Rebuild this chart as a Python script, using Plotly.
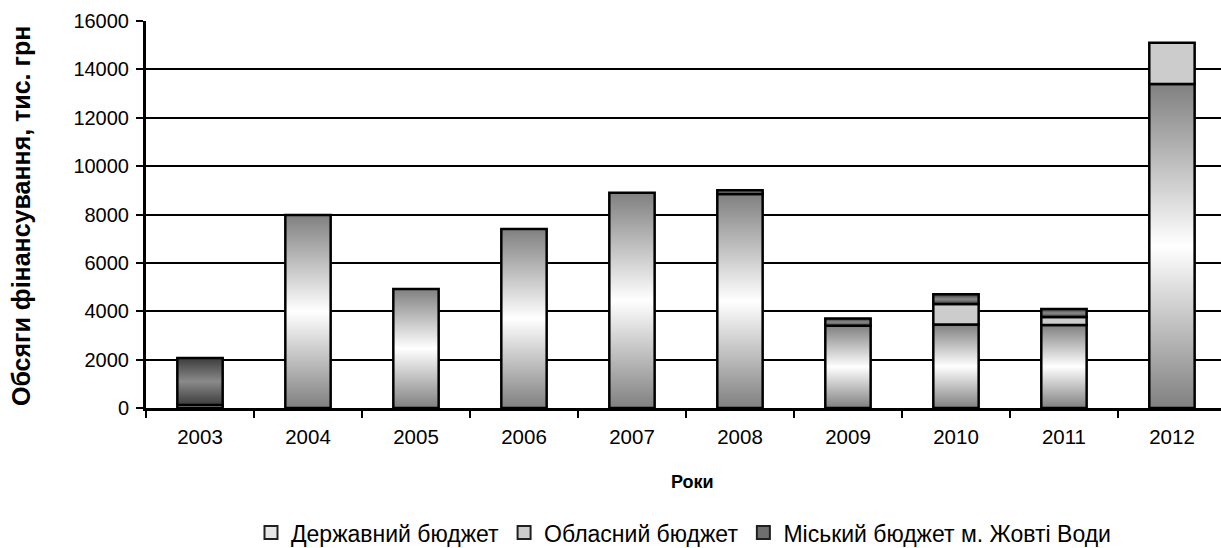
import plotly.graph_objects as go

years = ["2003", "2004", "2005", "2006", "2007", "2008", "2009", "2010", "2011", "2012"]
state_budget = [120, 7980, 4920, 7400, 8900, 8850, 3400, 3450, 3430, 13400]
oblast_budget = [0, 0, 0, 0, 0, 0, 0, 850, 330, 1700]
city_budget = [1950, 0, 0, 0, 0, 150, 300, 400, 330, 0]

series_names = ["Державний бюджет", "Обласний бюджет", "Міський бюджет м. Жовті Води"]

FONT = "Liberation Sans, Arial, sans-serif"
HALF_W = 0.21
scales = [
    [[0, "#808080"], [0.5, "#ffffff"], [1, "#808080"]],
    [[0, "#cccccc"], [1, "#cccccc"]],
    [[0, "#3c3c3c"], [0.5, "#8a8a8a"], [1, "#3c3c3c"]],
]
legend_colors = ["#e6e6e6", "#cccccc", "#6e6e6e"]

fig = go.Figure()
series = [state_budget, oblast_budget, city_budget]
base = [0] * len(years)
for s_idx, vals in enumerate(series):
    for i, v in enumerate(vals):
        if v <= 0:
            continue
        b = base[i]
        t = b + v
        fig.add_trace(go.Scatter(
            x=[i - HALF_W, i + HALF_W, i + HALF_W, i - HALF_W, i - HALF_W],
            y=[b, b, t, t, b],
            mode="lines", fill="toself",
            fillgradient=dict(type="vertical", colorscale=scales[s_idx], start=b, stop=t),
            line=dict(color="black", width=2.5),
            hoverinfo="skip", showlegend=False,
        ))
        base[i] = t

for s_idx, name in enumerate(series_names):
    fig.add_trace(go.Scatter(
        x=[None], y=[None], mode="markers", name=name,
        marker=dict(symbol="square", size=13, color=legend_colors[s_idx],
                    line=dict(color="#202020", width=2)),
    ))

fig.update_layout(
    width=1221, height=548,
    margin=dict(l=146, r=0, t=21, b=140),
    paper_bgcolor="white", plot_bgcolor="white",
    font=dict(family=FONT, color="black", size=20),
    showlegend=True,
    legend=dict(orientation="h", x=0.5, xanchor="center", xref="paper",
                y=0.028, yanchor="middle", yref="container",
                font=dict(size=23), itemwidth=30, traceorder="normal"),
    xaxis=dict(
        range=[-0.5, 9.454], tickmode="array", tickvals=list(range(len(years))), ticktext=years,
        showgrid=False, zeroline=False, showline=True, linecolor="black", linewidth=3,
        ticks="", tickfont=dict(size=20.5), ticklabelstandoff=8, automargin=False,
        minor=dict(tickmode="array", tickvals=[k - 0.5 for k in range(len(years) + 1)],
                   ticks="outside", ticklen=7, tickwidth=2, tickcolor="black", showgrid=False),
    ),
    yaxis=dict(
        range=[0, 16000], dtick=2000, tick0=0, tickformat="d",
        showgrid=True, gridcolor="black", gridwidth=2, zeroline=False,
        showline=True, linecolor="black", linewidth=3, automargin=False,
        ticks="outside", ticklen=7, tickwidth=2, tickcolor="black", tickfont=dict(size=20),
        ticklabelstandoff=3,
    ),
    annotations=[
        dict(text="<b>Обсяги фінансування, тис. грн</b>", xref="paper", yref="paper",
             x=-0.1163, y=0.496, textangle=-90, showarrow=False, font=dict(size=25),
             xanchor="center", yanchor="middle"),
        dict(text="<b>Роки</b>", xref="paper", yref="paper", x=0.508, y=-0.191,
             showarrow=False, font=dict(size=18), xanchor="center", yanchor="middle"),
    ],
)

fig.write_html("out.html", config={"displayModeBar": False},
               post_script="document.body.style.margin='0px';")
